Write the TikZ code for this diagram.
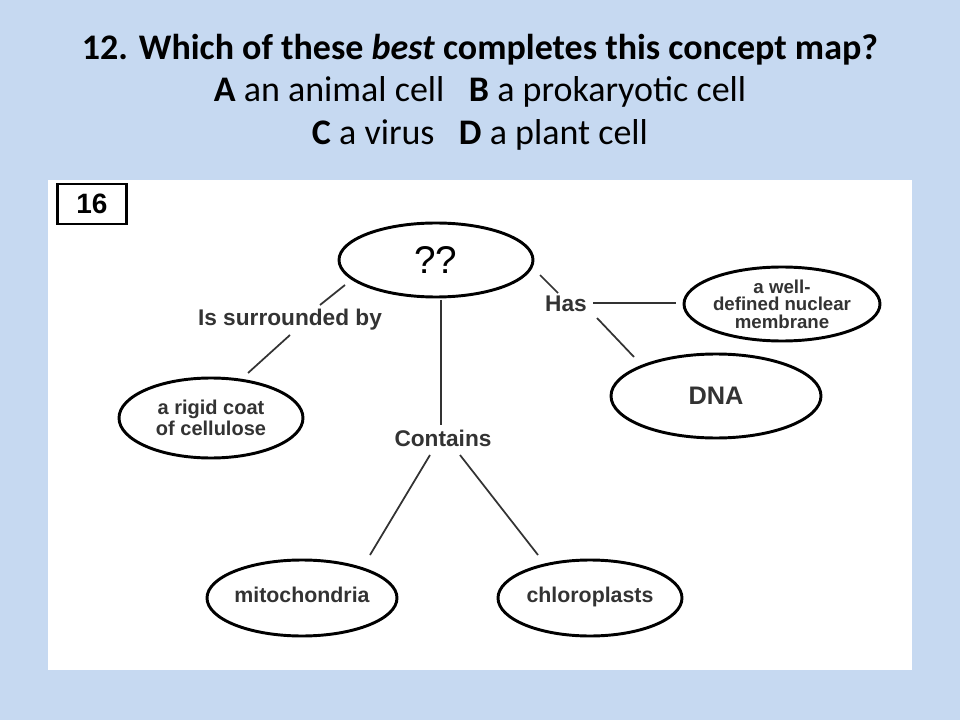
\documentclass[tikz,border=0pt]{standalone}
\usepackage{fontspec}
\setmainfont{Liberation Sans}
\newfontfamily\titlefont{Carlito}
\definecolor{bgblue}{HTML}{C6D9F1}
\begin{document}
\begin{tikzpicture}[x=0.75pt,y=-0.75pt,
  lab/.style={font=\fontsize{17}{18}\selectfont\bfseries,text=black!80},
  con/.style={line width=1.3pt,black!80}]
\useasboundingbox (0,0) rectangle (960,720);
\fill[bgblue] (0,0) rectangle (960,720);
\fill[white] (48,180) rectangle (912,670);
\node[font=\titlefont\fontsize{27}{32}\selectfont,align=center] (title) at (480,92)
 {\textbf{12. Which of these \textit{best} completes this concept map?}\\
  \textbf{A} an animal cell \ \ \textbf{B} a prokaryotic cell\\
  \textbf{C} a virus \ \ \textbf{D} a plant cell};
\node[draw,line width=1.8pt,font=\fontsize{21}{22}\selectfont\bfseries,minimum width=52pt,minimum height=30pt] (num) at (92,204) {16};
\draw[line width=2.2pt] (436,260) ellipse [x radius=97,y radius=37];
\node[font=\fontsize{29}{29}\selectfont] (q) at (436,260) {??};
\draw[line width=2.2pt] (782,304) ellipse [x radius=98,y radius=37];
\node[lab,align=center,font=\fontsize{14}{13}\selectfont\bfseries] (nm) at (782,304) {a well-\\defined nuclear\\membrane};
\draw[line width=2.2pt] (716,396) ellipse [x radius=105,y radius=42];
\node[lab,font=\fontsize{19}{19}\selectfont\bfseries] (dna) at (716,396) {DNA};
\draw[line width=2.2pt] (211,418) ellipse [x radius=92,y radius=40];
\node[lab,align=center,font=\fontsize{15}{16}\selectfont\bfseries] (coat) at (211,418) {a rigid coat\\of cellulose};
\draw[line width=2.2pt] (302,598) ellipse [x radius=95,y radius=38];
\node[lab,font=\fontsize{16}{16}\selectfont\bfseries,text height=1.6ex,text depth=0.4ex] (mito) at (302,598) {mitochondria};
\draw[line width=2.2pt] (590,598) ellipse [x radius=92,y radius=38];
\node[lab,font=\fontsize{16}{16}\selectfont\bfseries,text height=1.6ex,text depth=0.4ex] (chl) at (590,598) {chloroplasts};
\node[lab] (sur) at (290,320) {Is surrounded by};
\node[lab] (has) at (566,304) {Has};
\node[lab] (cont) at (443,438) {Contains};
\coordinate (a1) at (345,285); \coordinate (a2) at (320,305);
\coordinate (a3) at (290,335); \coordinate (a4) at (248,373);
\coordinate (b1) at (441,300); \coordinate (b2) at (441,425);
\coordinate (c1) at (430,455); \coordinate (c2) at (370,555);
\coordinate (c3) at (460,455); \coordinate (c4) at (538,555);
\coordinate (d1) at (540,275); \coordinate (d2) at (558,293);
\coordinate (d3) at (593,303); \coordinate (d4) at (676,303);
\coordinate (d5) at (597,318); \coordinate (d6) at (634,357);
\draw[con] (a1)--(a2); \draw[con] (a3)--(a4); \draw[con] (b1)--(b2);
\draw[con] (c1)--(c2); \draw[con] (c3)--(c4); \draw[con] (d1)--(d2);
\draw[con] (d3)--(d4); \draw[con] (d5)--(d6);
\end{tikzpicture}
\end{document}
